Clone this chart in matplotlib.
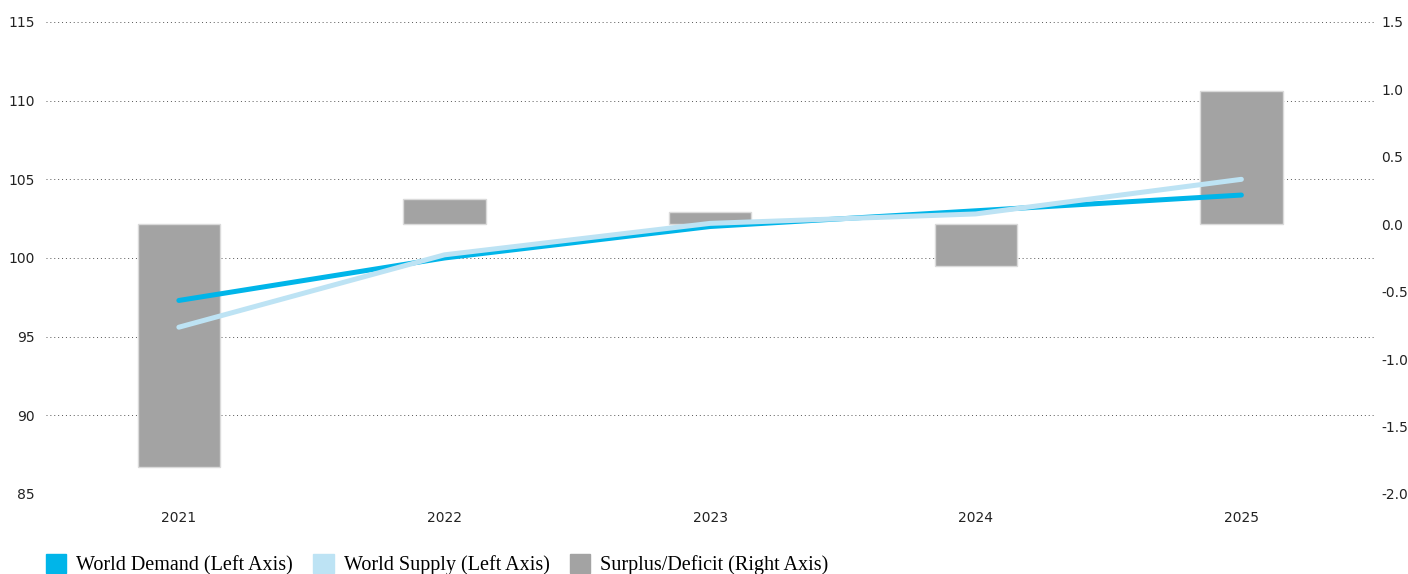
import numpy as np
import matplotlib.pyplot as plt
from matplotlib.patches import Patch

years = ["2021", "2022", "2023", "2024", "2025"]
demand = [97.3, 100.0, 102.0, 103.0, 104.0]
supply = [95.6, 100.2, 102.2, 102.8, 105.0]
surplus = [-1.8, 0.19, 0.09, -0.31, 0.99]

left_ticks = [85, 90, 95, 100, 105, 110, 115]
right_ticks = [-2.0, -1.5, -1.0, -0.5, 0.0, 0.5, 1.0, 1.5]

c_demand = "#00B5E9"
c_supply = "#BDE3F4"
c_bar = "#A3A3A3"

fig = plt.figure(figsize=(14.08, 5.74), dpi=100)
ax = fig.add_axes([0.0327, 0.1394, 0.9433, 0.8223])
ax2 = ax.twinx()   # bars, right axis
ax3 = ax.twinx()   # lines, left scale, on top

x = np.arange(len(years))

# left axis: ticks + dotted grid (lowest layer)
ax.set_ylim(85, 115)
ax.set_yticks(left_ticks)
ax.set_xlim(-0.5, len(years) - 0.5)
ax.set_xticks(x)
ax.set_xticklabels(years)
ax.grid(axis="y", color="#555555", linestyle=(0, (1, 3)), linewidth=0.7)

# bars on the right axis
ax2.bar(x, surplus, width=0.31, color=c_bar, edgecolor="#DADADA", linewidth=1)
ax2.set_ylim(-2.0, 1.5)
ax2.set_yticks(right_ticks)
ax2.set_yticklabels([f"{v:.1f}" for v in right_ticks])

# lines on the left scale
ax3.plot(x, demand, color=c_demand, lw=3.6, solid_capstyle="round")
ax3.plot(x, supply, color=c_supply, lw=3.6, solid_capstyle="round")
ax3.set_ylim(85, 115)
ax3.set_yticks([])

for a in (ax, ax2, ax3):
    for s in a.spines.values():
        s.set_visible(False)
    a.tick_params(length=0, labelsize=10, colors="#222222")
ax.tick_params(axis="y", pad=8)
ax.tick_params(axis="x", pad=12)
ax2.tick_params(axis="y", pad=5)

handles = [Patch(color=c_demand), Patch(color=c_supply), Patch(color=c_bar)]
labels = ["World Demand (Left Axis)", "World Supply (Left Axis)", "Surplus/Deficit (Right Axis)"]
fig.legend(handles, labels, loc="lower left", bbox_to_anchor=(0.020, -0.034), ncol=3,
           frameon=False, prop={"family": "Liberation Serif", "size": 14.5},
           handlelength=1.0, handleheight=1.0, handletextpad=0.5, columnspacing=1.0)

fig.savefig("out.png", dpi=100)
